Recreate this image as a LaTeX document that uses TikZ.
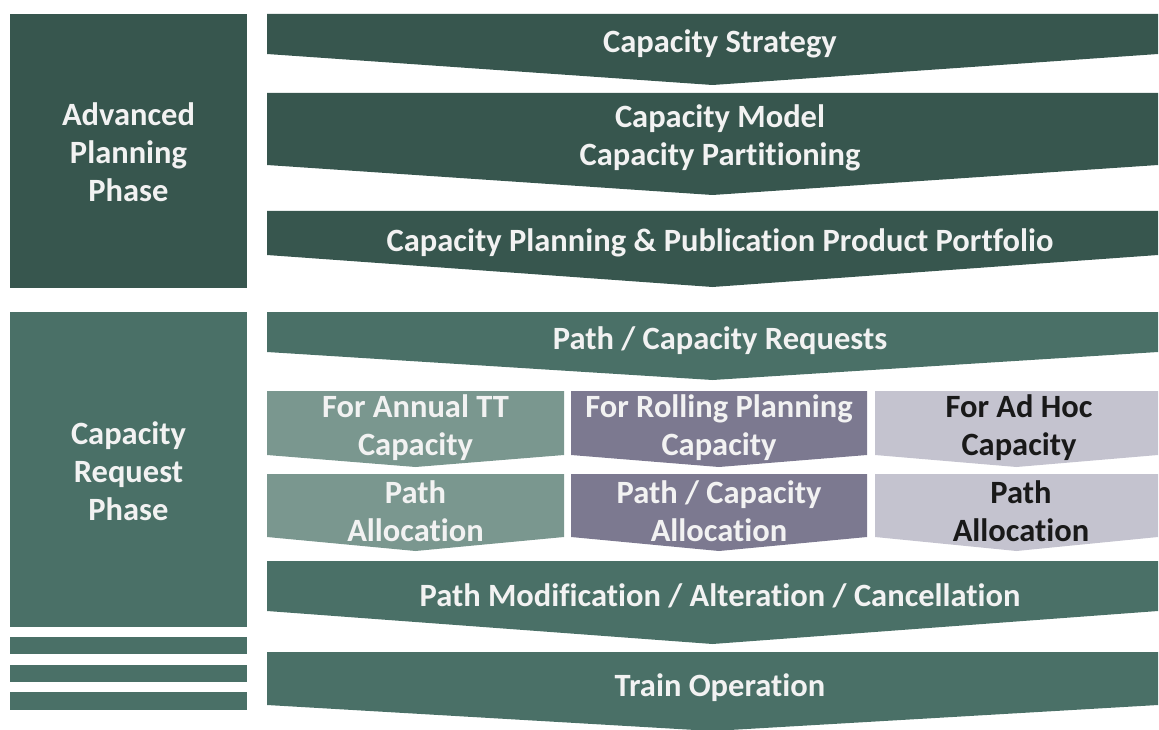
\documentclass[tikz,border=0pt]{standalone}
\usepackage{fontspec}
\setmainfont{Carlito}[Ligatures=NoCommon]
\definecolor{planning}{HTML}{37564E}
\definecolor{request}{HTML}{4A7067}
\definecolor{annual}{HTML}{7A978F}
\definecolor{rolling}{HTML}{7C7990}
\definecolor{adhoc}{HTML}{C4C3CF}
\begin{document}
\begin{tikzpicture}[x=1pt,y=-1pt,
  boxtext/.style={text=white!95!black,font=\bfseries\fontsize{32.5}{38}\selectfont,align=center,inner sep=0pt},
  darktext/.style={boxtext,text=black!90}]
\useasboundingbox (0,0) rectangle (1159,730);

% phases on the left
\fill[planning] (10,14)  rectangle (247,288);
\fill[request]  (10,312) rectangle (247,627);
\fill[request]  (10,637) rectangle (247,654);
\fill[request]  (10,665) rectangle (247,682);
\fill[request]  (10,692) rectangle (247,710);
\node[boxtext] (advanced) at (128.5,152) {Advanced\\Planning\\Phase};
\node[boxtext] (request)  at (128.5,471) {Capacity\\Request\\Phase};

% planning chevrons
\fill[planning] (267,14)  -- (1158,14)  -- (1158,54)  -- (712.5,85)  -- (267,54)  -- cycle;
\fill[planning] (267,93)  -- (1158,93)  -- (1158,165) -- (712.5,195) -- (267,165) -- cycle;
\fill[planning] (267,211) -- (1158,211) -- (1158,255) -- (712.5,287) -- (267,255) -- cycle;
\node[boxtext] (strategy)  at (720,44)  {Capacity Strategy};
\node[boxtext] (model)     at (720,138) {Capacity Model\\Capacity Partitioning};
\node[boxtext] (portfolio) at (720,243) {Capacity Planning \& Publication Product Portfolio};

% request chevrons
\fill[request] (267,312) -- (1158,312) -- (1158,352) -- (712.5,380) -- (267,352) -- cycle;
\fill[request] (267,561) -- (1158,561) -- (1158,611) -- (712.5,644) -- (267,611) -- cycle;
\fill[request] (267,652) -- (1158,652) -- (1158,705) -- (712.5,731) -- (267,705) -- cycle;
\node[boxtext] (requests)     at (720,341) {Path / Capacity Requests};
\node[boxtext] (modification) at (720,596) {Path Modification / Alteration / Cancellation};
\node[boxtext] (operation)    at (720,688) {Train Operation};

% three kinds of capacity
\fill[annual]  (267,391) -- (564,391)  -- (564,455)  -- (415.5,467)  -- (267,455) -- cycle;
\fill[rolling] (571,391) -- (867,391)  -- (867,455)  -- (719,467)    -- (571,455) -- cycle;
\fill[adhoc]   (875,391) -- (1158,391) -- (1158,455) -- (1016.5,467) -- (875,455) -- cycle;
\fill[annual]  (267,474) -- (564,474)  -- (564,537)  -- (415.5,551)  -- (267,537) -- cycle;
\fill[rolling] (571,474) -- (867,474)  -- (867,537)  -- (719,551)    -- (571,537) -- cycle;
\fill[adhoc]   (875,474) -- (1158,474) -- (1158,537) -- (1016.5,551) -- (875,537) -- cycle;
\node[boxtext]  (annual)       at (415.5,428)  {For Annual TT\\Capacity};
\node[boxtext]  (rolling)      at (719,428)    {For Rolling Planning\\Capacity};
\node[darktext] (adhoc)        at (1019,428)   {For Ad Hoc\\Capacity};
\node[boxtext]  (annualalloc)  at (415.5,511)  {Path\\Allocation};
\node[boxtext]  (rollingalloc) at (719,511)    {Path / Capacity\\Allocation};
\node[darktext] (adhocalloc)   at (1021,511)   {Path\\Allocation};

\end{tikzpicture}
\end{document}
